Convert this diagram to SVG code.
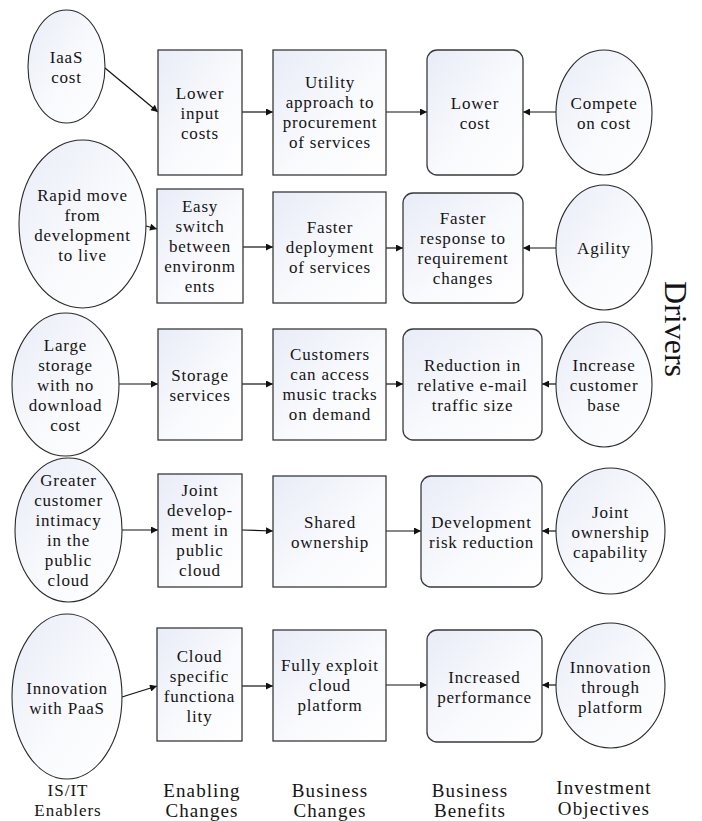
<svg xmlns="http://www.w3.org/2000/svg" width="702" height="821" viewBox="0 0 702 821">
  <style>
    .shape { stroke: #3a3a3a; stroke-width: 1.3; fill: url(#fillGrad); }
    .oval { stroke: #2a2a2a; stroke-width: 1.1; fill: url(#fillGrad); }
    .lbl { font-family: "Liberation Serif", "Times New Roman", serif; font-size: 17px; letter-spacing: 0.8px; fill: #141414; text-anchor: middle; }
    .col { font-family: "Liberation Serif", "Times New Roman", serif; font-size: 19px; letter-spacing: 1.1px; fill: #141414; text-anchor: middle; }
    .colsm { font-family: "Liberation Serif", "Times New Roman", serif; font-size: 17px; letter-spacing: 1px; fill: #141414; text-anchor: middle; }
    .side { font-family: "Liberation Serif", "Times New Roman", serif; font-size: 32px; fill: #141414; text-anchor: middle; }
    .conn { stroke: #111; stroke-width: 1.2; fill: none; marker-end: url(#arrow); }
  </style>
  <defs>
    <linearGradient id="fillGrad" x1="0" y1="0" x2="1" y2="1">
      <stop offset="0" stop-color="#e8ecf7"/>
      <stop offset="0.55" stop-color="#f9fafd"/>
      <stop offset="1" stop-color="#ffffff"/>
    </linearGradient>
    <marker id="arrow" viewBox="0 0 10 10" refX="10" refY="5" markerWidth="9" markerHeight="7" markerUnits="userSpaceOnUse" orient="auto">
      <path d="M0,0 L10,5 L0,10 z" fill="#111"/>
    </marker>
  </defs>

  <!-- Connectors -->
  <g id="connectors">
    <line class="conn" x1="105" y1="68" x2="158" y2="112"/>
    <line class="conn" x1="242" y1="112" x2="273" y2="112"/>
    <line class="conn" x1="386" y1="112" x2="427" y2="112"/>
    <line class="conn" x1="556" y1="112" x2="523" y2="112"/>

    <line class="conn" x1="146" y1="226" x2="157" y2="229"/>
    <line class="conn" x1="243" y1="247" x2="273" y2="247"/>
    <line class="conn" x1="386" y1="248" x2="403" y2="248"/>
    <line class="conn" x1="556" y1="248" x2="523" y2="248"/>

    <line class="conn" x1="119" y1="384" x2="158" y2="384"/>
    <line class="conn" x1="242" y1="384" x2="273" y2="384"/>
    <line class="conn" x1="386" y1="384" x2="403" y2="384"/>
    <line class="conn" x1="556" y1="384" x2="542" y2="384"/>

    <line class="conn" x1="122" y1="530" x2="158" y2="530"/>
    <line class="conn" x1="242" y1="530" x2="273" y2="531"/>
    <line class="conn" x1="386" y1="531" x2="421" y2="531"/>
    <line class="conn" x1="556" y1="531" x2="542" y2="531"/>

    <line class="conn" x1="122" y1="697" x2="157" y2="686"/>
    <line class="conn" x1="242" y1="686" x2="273" y2="686"/>
    <line class="conn" x1="386" y1="685" x2="427" y2="685"/>
    <line class="conn" x1="556" y1="685" x2="542" y2="685"/>
  </g>

  <!-- Row 1 -->
  <g id="iaas-cost">
    <ellipse class="oval" cx="66.5" cy="66.5" rx="38.5" ry="56.5"/>
    <text class="lbl" y="63"><tspan x="66.5">IaaS</tspan><tspan x="66.5" dy="20">cost</tspan></text>
  </g>
  <g id="lower-input-costs">
    <rect class="shape" x="158" y="50" width="84" height="125"/>
    <text class="lbl" y="98.5"><tspan x="200">Lower</tspan><tspan x="200" dy="20">input</tspan><tspan x="200" dy="20">costs</tspan></text>
  </g>
  <g id="utility-approach">
    <rect class="shape" x="273" y="50" width="113" height="125"/>
    <text class="lbl" y="88"><tspan x="330">Utility</tspan><tspan x="330" dy="20">approach to</tspan><tspan x="330" dy="20">procurement</tspan><tspan x="330" dy="20">of services</tspan></text>
  </g>
  <g id="lower-cost">
    <rect class="shape" x="427" y="50" width="96" height="125" rx="10"/>
    <text class="lbl" y="108.5"><tspan x="475">Lower</tspan><tspan x="475" dy="20">cost</tspan></text>
  </g>
  <g id="compete-on-cost">
    <ellipse class="oval" cx="604" cy="112.5" rx="48" ry="62.5"/>
    <text class="lbl" y="108.5"><tspan x="604">Compete</tspan><tspan x="604" dy="20">on cost</tspan></text>
  </g>

  <!-- Row 2 -->
  <g id="rapid-move">
    <ellipse class="oval" cx="82.5" cy="224" rx="63.5" ry="84"/>
    <text class="lbl" y="201"><tspan x="82.5">Rapid move</tspan><tspan x="82.5" dy="20">from</tspan><tspan x="82.5" dy="20">development</tspan><tspan x="82.5" dy="20">to live</tspan></text>
  </g>
  <g id="easy-switch">
    <rect class="shape" x="157" y="189" width="86" height="114"/>
    <text class="lbl" y="212"><tspan x="200">Easy</tspan><tspan x="200" dy="20">switch</tspan><tspan x="200" dy="20">between</tspan><tspan x="200" dy="20">environm</tspan><tspan x="200" dy="20">ents</tspan></text>
  </g>
  <g id="faster-deployment">
    <rect class="shape" x="273" y="192" width="113" height="111"/>
    <text class="lbl" y="232.5"><tspan x="330">Faster</tspan><tspan x="330" dy="20">deployment</tspan><tspan x="330" dy="20">of services</tspan></text>
  </g>
  <g id="faster-response">
    <rect class="shape" x="403" y="193" width="120" height="110" rx="10"/>
    <text class="lbl" y="224"><tspan x="463">Faster</tspan><tspan x="463" dy="20">response to</tspan><tspan x="463" dy="20">requirement</tspan><tspan x="463" dy="20">changes</tspan></text>
  </g>
  <g id="agility">
    <ellipse class="oval" cx="604" cy="247.5" rx="48" ry="62.5"/>
    <text class="lbl" x="604" y="253.5">Agility</text>
  </g>

  <!-- Row 3 -->
  <g id="large-storage">
    <ellipse class="oval" cx="65.5" cy="384.5" rx="53.5" ry="71.5"/>
    <text class="lbl" y="350.5"><tspan x="65.5">Large</tspan><tspan x="65.5" dy="20">storage</tspan><tspan x="65.5" dy="20">with no</tspan><tspan x="65.5" dy="20">download</tspan><tspan x="65.5" dy="20">cost</tspan></text>
  </g>
  <g id="storage-services">
    <rect class="shape" x="158" y="329" width="84" height="111"/>
    <text class="lbl" y="380.5"><tspan x="200">Storage</tspan><tspan x="200" dy="20">services</tspan></text>
  </g>
  <g id="music-on-demand">
    <rect class="shape" x="273" y="329" width="113" height="111"/>
    <text class="lbl" y="360"><tspan x="330">Customers</tspan><tspan x="330" dy="20">can access</tspan><tspan x="330" dy="20">music tracks</tspan><tspan x="330" dy="20">on demand</tspan></text>
  </g>
  <g id="email-reduction">
    <rect class="shape" x="403" y="329" width="139" height="111" rx="10"/>
    <text class="lbl" y="370.5"><tspan x="472.5">Reduction in</tspan><tspan x="472.5" dy="20">relative e-mail</tspan><tspan x="472.5" dy="20">traffic size</tspan></text>
  </g>
  <g id="increase-customer-base">
    <ellipse class="oval" cx="604" cy="384.5" rx="48" ry="62.5"/>
    <text class="lbl" y="370.5"><tspan x="604">Increase</tspan><tspan x="604" dy="20">customer</tspan><tspan x="604" dy="20">base</tspan></text>
  </g>

  <!-- Row 4 -->
  <g id="customer-intimacy">
    <ellipse class="oval" cx="68.5" cy="530" rx="53.5" ry="72"/>
    <text class="lbl" y="486"><tspan x="68.5">Greater</tspan><tspan x="68.5" dy="20">customer</tspan><tspan x="68.5" dy="20">intimacy</tspan><tspan x="68.5" dy="20">in the</tspan><tspan x="68.5" dy="20">public</tspan><tspan x="68.5" dy="20">cloud</tspan></text>
  </g>
  <g id="joint-development">
    <rect class="shape" x="158" y="474" width="84" height="113"/>
    <text class="lbl" y="496"><tspan x="200">Joint</tspan><tspan x="200" dy="20">develop-</tspan><tspan x="200" dy="20">ment in</tspan><tspan x="200" dy="20">public</tspan><tspan x="200" dy="20">cloud</tspan></text>
  </g>
  <g id="shared-ownership">
    <rect class="shape" x="273" y="476" width="113" height="111"/>
    <text class="lbl" y="527.5"><tspan x="330">Shared</tspan><tspan x="330" dy="20">ownership</tspan></text>
  </g>
  <g id="risk-reduction">
    <rect class="shape" x="421" y="476" width="121" height="111" rx="10"/>
    <text class="lbl" y="527.5"><tspan x="481.5">Development</tspan><tspan x="481.5" dy="20">risk reduction</tspan></text>
  </g>
  <g id="joint-ownership">
    <ellipse class="oval" cx="610.5" cy="531" rx="54.5" ry="63"/>
    <text class="lbl" y="517.5"><tspan x="610.5">Joint</tspan><tspan x="610.5" dy="20">ownership</tspan><tspan x="610.5" dy="20">capability</tspan></text>
  </g>

  <!-- Row 5 -->
  <g id="innovation-paas">
    <ellipse class="oval" cx="67" cy="696.5" rx="55" ry="82.5"/>
    <text class="lbl" y="693.5"><tspan x="67">Innovation</tspan><tspan x="67" dy="20">with PaaS</tspan></text>
  </g>
  <g id="cloud-functionality">
    <rect class="shape" x="157" y="628" width="85" height="113"/>
    <text class="lbl" y="661.5"><tspan x="199.5">Cloud</tspan><tspan x="199.5" dy="20">specific</tspan><tspan x="199.5" dy="20">functiona</tspan><tspan x="199.5" dy="20">lity</tspan></text>
  </g>
  <g id="exploit-platform">
    <rect class="shape" x="273" y="630" width="113" height="111"/>
    <text class="lbl" y="670.5"><tspan x="330">Fully exploit</tspan><tspan x="330" dy="20">cloud</tspan><tspan x="330" dy="20">platform</tspan></text>
  </g>
  <g id="increased-performance">
    <rect class="shape" x="427" y="630" width="115" height="112" rx="10"/>
    <text class="lbl" y="682.5"><tspan x="484.5">Increased</tspan><tspan x="484.5" dy="20">performance</tspan></text>
  </g>
  <g id="innovation-platform">
    <ellipse class="oval" cx="610.5" cy="685.5" rx="54.5" ry="62.5"/>
    <text class="lbl" y="673"><tspan x="610.5">Innovation</tspan><tspan x="610.5" dy="20">through</tspan><tspan x="610.5" dy="20">platform</tspan></text>
  </g>

  <!-- Column headings -->
  <g id="column-labels">
    <text class="colsm" y="796"><tspan x="68">IS/IT</tspan><tspan x="68" dy="20">Enablers</tspan></text>
    <text class="col" y="797"><tspan x="202">Enabling</tspan><tspan x="202" dy="20">Changes</tspan></text>
    <text class="col" y="797"><tspan x="330">Business</tspan><tspan x="330" dy="20">Changes</tspan></text>
    <text class="col" y="797"><tspan x="470">Business</tspan><tspan x="470" dy="20">Benefits</tspan></text>
    <text class="col" y="794"><tspan x="604">Investment</tspan><tspan x="604" dy="21">Objectives</tspan></text>
  </g>

  <!-- Side heading -->
  <g id="drivers-label">
    <text class="side" transform="translate(665 329) rotate(90)" x="0" y="0">Drivers</text>
  </g>
</svg>
